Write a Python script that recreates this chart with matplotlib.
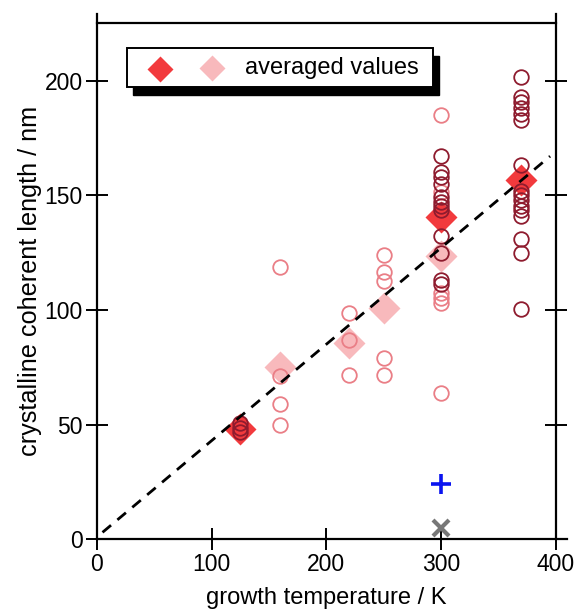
"""
Crystalline coherent length vs growth temperature.
Individual measurements (open circles), averaged values (diamonds),
a linear guide line and two reference points at 300 K.
"""
import matplotlib
matplotlib.use("Agg")
import matplotlib.pyplot as plt
from matplotlib.patches import Rectangle

plt.rcParams["font.family"] = ["Liberation Sans", "DejaVu Sans"]

# ── Data ──────────────────────────────────────────────────────────────────────
# series 1 (dark red circles) – individual values
dark_temp = [125, 125, 125,
             300, 300, 300, 300, 300, 300, 300, 300, 300, 300, 300, 300,
             370, 370, 370, 370, 370, 370, 370, 370, 370, 370, 370, 370,
             370, 370, 370, 370]
dark_len = [50.5, 48.4, 46.6,
            167, 160, 158, 155, 149, 147, 145.5, 143.4, 132, 125, 113, 111.5,
            201.5, 193, 190.6, 188, 185.4, 182.8, 163, 152, 150, 147.7, 145.5,
            143.4, 141, 131, 125, 100.5]

# series 2 (light red circles) – individual values
light_temp = [160, 160, 160, 160,
              220, 220, 220,
              250, 250, 250, 250, 250,
              300, 300, 300, 300, 300, 300]
light_len = [118.5, 71, 59, 50,
             98.5, 86.7, 71.5,
             124, 116.5, 112.5, 79, 71.5,
             185, 151.3, 107.3, 105, 102.8, 63.6]

# averaged values
avg_dark_temp = [125, 300, 370]
avg_dark_len = [48, 140.7, 156.8]
avg_light_temp = [160, 220, 250, 300]
avg_light_len = [75.3, 85.5, 100.7, 123.5]

# linear guide
fit_temp = [5, 395]
fit_len = [3, 167]

# reference points
plus_temp, plus_len = [300], [24]
cross_temp, cross_len = [300], [5]

DARK = "#8E1B2E"
LIGHT = "#EA7E86"
RED = "#F23A3D"
PINK = "#F8B9BC"
FS = 16.5


fig = plt.figure(figsize=(5.76, 6.10), dpi=100)
ax = fig.add_axes([0.168, 0.116, 0.797, 0.846])

ax.plot(avg_light_temp, avg_light_len, "D", ms=16.5, color=PINK, mec="none", zorder=2)
ax.plot(avg_dark_temp, avg_dark_len, "D", ms=16.5, color=RED, mec="none", zorder=2)
ax.plot(light_temp, light_len, "o", ms=10.5, mfc="none", mec=LIGHT, mew=1.3, zorder=3)
ax.plot(dark_temp, dark_len, "o", ms=10.5, mfc="none", mec=DARK, mew=1.3, zorder=3)
ax.plot(fit_temp, fit_len, "--", color="black", lw=2, dashes=(4, 3), zorder=4)
ax.plot(plus_temp, plus_len, "+", ms=15, mew=2.6, color="#0A14F0", zorder=4)
ax.plot(cross_temp, cross_len, "x", ms=12, mew=3, color="#777777", zorder=4)

ax.set_xlim(0, 400)
ax.set_ylim(0, 225)
ax.set_xticks([0, 100, 200, 300, 400])
ax.set_yticks([0, 50, 100, 150, 200])
ax.tick_params(direction="inout", length=16, width=1.4, labelsize=FS, pad=2,
               right=True, top=False)
ax.set_xlabel("growth temperature / K", fontsize=FS + 0.5, labelpad=7.5)
ax.set_ylabel("crystalline coherent length / nm", fontsize=18.2, labelpad=2)

for side in ["left", "right", "top", "bottom"]:
    ax.spines[side].set_linewidth(1.6)
ax.spines["left"].set_bounds(0, 229)
ax.spines["right"].set_bounds(0, 229)
ax.spines["bottom"].set_bounds(0, 410)

# legend box with a hard black shadow
x0, x1, y0, y1 = 0.065, 0.732, 0.876, 0.952
ax.add_patch(Rectangle((x0 + 0.013, y0 - 0.016), x1 - x0, y1 - y0,
                       transform=ax.transAxes, facecolor="black",
                       edgecolor="black", zorder=9, clip_on=False))
ax.add_patch(Rectangle((x0, y0), x1 - x0, y1 - y0, transform=ax.transAxes,
                       facecolor="white", edgecolor="black", lw=1.4,
                       zorder=10, clip_on=False))
ax.plot([0.137], [0.912], "D", ms=13, color=RED, mec="none",
        transform=ax.transAxes, zorder=11, clip_on=False)
ax.plot([0.251], [0.914], "D", ms=13, color=PINK, mec="none",
        transform=ax.transAxes, zorder=11, clip_on=False)
ax.text(0.322, 0.913, "averaged values", transform=ax.transAxes,
        fontsize=FS + 0.5, va="center", ha="left", zorder=11)

fig.savefig("out.png", dpi=100)
plt.close(fig)
